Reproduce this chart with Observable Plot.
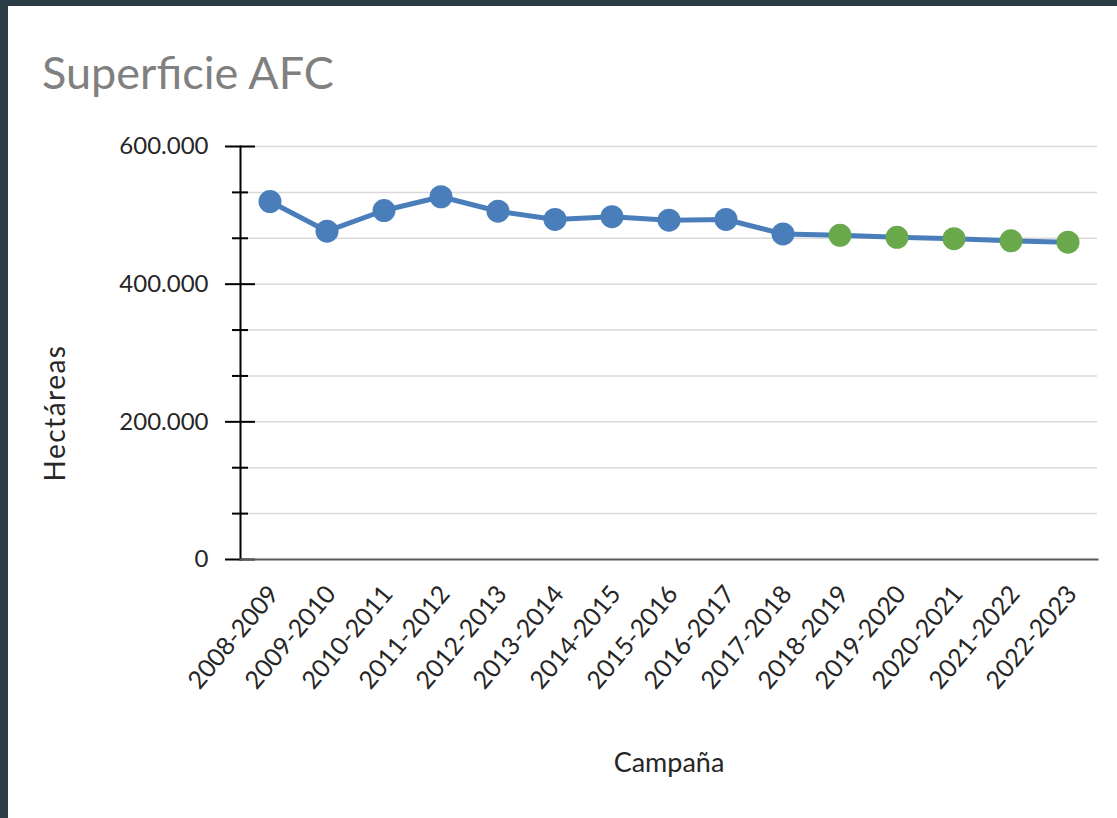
<!DOCTYPE html>
<html>
<head>
<meta charset="utf-8">
<script src="https://cdn.jsdelivr.net/npm/d3@7"></script>
<script src="https://cdn.jsdelivr.net/npm/@observablehq/plot@0.6"></script>
<style>
  html, body { margin: 0; padding: 0; background: #ffffff; }
  body { width: 1117px; height: 818px; position: relative; overflow: hidden; font-family: Lato, "Open Sans", sans-serif; }
  #bordeTop { position: absolute; left: 0; top: 0; width: 1117px; height: 6px; background: #2b3c44; }
  #bordeLeft { position: absolute; left: 0; top: 0; width: 8px; height: 818px; background: #2b3c44; }
  #titulo { position: absolute; left: 42px; top: 50px; font-family: Lato, sans-serif; font-size: 45px; line-height: 1; color: #808080; white-space: nowrap; }
  #tituloY { position: absolute; left: 54px; top: 413px; transform: translate(-50%, -50%) rotate(-90deg); font-family: Lato, sans-serif; font-size: 28px; letter-spacing: 1.5px; line-height: 1; color: #262626; white-space: nowrap; }
  #grafico { position: absolute; left: 8px; top: 110px; }
</style>
</head>
<body>
<div id="bordeTop"></div>
<div id="bordeLeft"></div>
<div id="titulo">Superficie AFC</div>
<div id="grafico"></div>
<div id="tituloY"></div>
<script>
const campanas = ["2008-2009","2009-2010","2010-2011","2011-2012","2012-2013","2013-2014","2014-2015","2015-2016","2016-2017","2017-2018","2018-2019","2019-2020","2020-2021","2021-2022","2022-2023"];
const hectareas = [520000, 477000, 507000, 527000, 506000, 494000, 498000, 493000, 494000, 473000, 471000, 468000, 466000, 463000, 461000];
const tipo = ["real","real","real","real","real","real","real","real","real","real","estimado","estimado","estimado","estimado","estimado"];
const ticksMayores = [0, 200000, 400000, 600000];
const ticksMenores = [66667, 133333, 266667, 333333, 466667, 533333];
const lineasGuia = [66667, 133333, 200000, 266667, 333333, 400000, 466667, 533333, 600000];
const tituloY = "Hectáreas";
const tituloX = "Campaña";

document.getElementById("tituloY").textContent = tituloY;

const datos = campanas.map((c, i) => ({campana: c, valor: hectareas[i], tipo: tipo[i]}));
const fmt = d3.formatLocale({decimal: ",", thousands: ".", grouping: [3], currency: ["", ""]}).format(",");

const chart = Plot.plot({
  width: 1109,
  height: 708,
  marginTop: 36,
  marginLeft: 232,
  marginRight: 20,
  marginBottom: 259,
  style: {fontFamily: "Lato, sans-serif", background: "transparent", color: "#262626"},
  x: {type: "band", domain: campanas, padding: 0, label: null},
  y: {domain: [0, 600000], label: null},
  color: {domain: ["real", "estimado"], range: ["#4a7ebb", "#6aa84c"]},
  marks: [
    Plot.ruleY(lineasGuia, {y: d => d, stroke: "#d9d9d9", strokeWidth: 1.5}),
    Plot.axisY({ticks: ticksMenores, tickSize: 16, dx: 8, tickFormat: () => "", stroke: "#000", strokeWidth: 2, label: null}),
    Plot.axisY({ticks: ticksMayores, tickSize: 30, dx: 15, tickFormat: () => "", stroke: "#000", strokeWidth: 2, label: null}),
    Plot.axisY({ticks: ticksMayores, tickSize: 0, tickPadding: 32, tickFormat: fmt, fontSize: 24, fill: "#262626", label: null}),
    Plot.frame({anchor: "left", stroke: "#000", strokeWidth: 2}),
    Plot.frame({anchor: "bottom", stroke: "#595959", strokeWidth: 2}),
    Plot.axisX({tickSize: 0, tickRotate: -50, tickPadding: 30, dx: 4, fontSize: 25, fill: "#262626", label: null, style: {letterSpacing: "2px"}}),
    Plot.line(datos, {x: "campana", y: "valor", stroke: "#4a7ebb", strokeWidth: 5}),
    Plot.dot(datos, {x: "campana", y: "valor", fill: "tipo", r: 11.5}),
    Plot.text([tituloX], {frameAnchor: "bottom", dy: 212, fontSize: 27, fill: "#262626"})
  ]
});
document.getElementById("grafico").appendChild(chart);
</script>
</body>
</html>
